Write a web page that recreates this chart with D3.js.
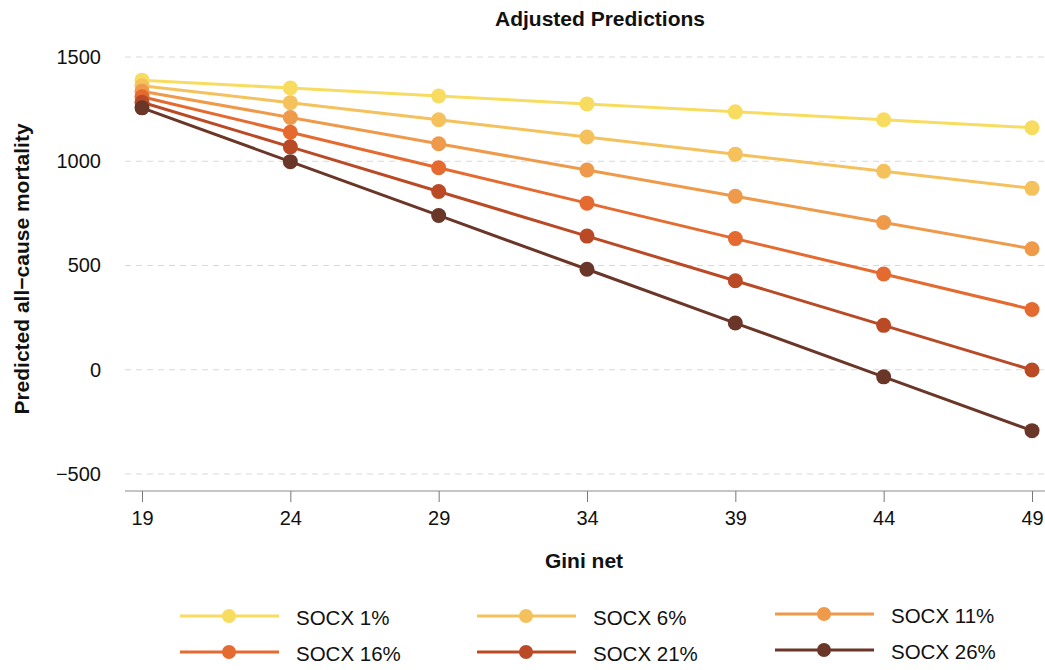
<!DOCTYPE html>
<html>
<head>
<meta charset="utf-8">
<title>Adjusted Predictions</title>
<script src="https://d3js.org/d3.v7.min.js"></script>
<style>
  body { margin: 0; background: #fff; }
  svg text { font-family: "Liberation Sans", Arial, Helvetica, sans-serif; fill: #111; }
</style>
</head>
<body>
<div id="chart"></div>
<script>
// data
const gini = [19, 24, 29, 34, 39, 44, 49];
const seriesNames = ["SOCX 1%", "SOCX 6%", "SOCX 11%", "SOCX 16%", "SOCX 21%", "SOCX 26%"];
const socx1  = [1389, 1351, 1313, 1275, 1237, 1199, 1161];
const socx6  = [1362, 1281, 1199, 1116, 1034, 952, 870];
const socx11 = [1336, 1210, 1084, 958, 832, 706, 580];
const socx16 = [1309, 1139, 969, 799, 629, 459, 289];
const socx21 = [1283, 1069, 855, 641, 427, 213, -1];
const socx26 = [1256, 998, 740, 482, 224, -34, -292];
const yTicks = [-500, 0, 500, 1000, 1500];
const colors = ["#f8dc60", "#f4c15c", "#ee9a4a", "#e56a30", "#b94a25", "#6a3628"];

const allSeries = [socx1, socx6, socx11, socx16, socx21, socx26];

const W = 1045, H = 670;
const svg = d3.select("#chart").append("svg")
  .attr("width", W).attr("height", H);

// plot area
const plotLeft = 125, plotRight = 1045, plotBottom = 491;

const x = d3.scaleLinear().domain([19, 49]).range([142, 1032]);
const y = d3.scaleLinear().domain([-500, 1500]).range([474, 57]);

// title
svg.append("text")
  .attr("x", 600).attr("y", 26)
  .attr("text-anchor", "middle")
  .style("font-size", "21px").style("font-weight", "bold")
  .text("Adjusted Predictions");

// gridlines
svg.append("g").selectAll("line")
  .data(yTicks).enter().append("line")
  .attr("x1", plotLeft).attr("x2", plotRight)
  .attr("y1", d => y(d)).attr("y2", d => y(d))
  .attr("stroke", "#d9d9d9").attr("stroke-width", 1)
  .attr("stroke-dasharray", "6,5");

// y axis labels
const yAxis = svg.append("g")
  .attr("transform", `translate(${plotLeft},0)`)
  .call(d3.axisLeft(y).tickValues(yTicks).tickSize(0).tickPadding(24)
    .tickFormat(d => d < 0 ? "\u2212" + Math.abs(d) : d));
yAxis.select(".domain").remove();
yAxis.selectAll("text").style("font-size", "20px").attr("fill", "#111");

// x axis
const xAxis = svg.append("g")
  .attr("transform", `translate(0,${plotBottom})`)
  .call(d3.axisBottom(x).tickValues(gini).tickSize(11).tickPadding(9));
xAxis.select(".domain").remove();
xAxis.append("line").attr("x1", plotLeft).attr("x2", plotRight)
  .attr("stroke", "#8a8a8a").attr("stroke-width", 1);
xAxis.selectAll(".tick line").attr("stroke", "#777");
xAxis.selectAll("text").style("font-size", "20px").attr("fill", "#111");

// axis titles
svg.append("text")
  .attr("x", 584).attr("y", 568)
  .attr("text-anchor", "middle")
  .style("font-size", "21px").style("font-weight", "bold")
  .text("Gini net");

svg.append("text")
  .attr("transform", "rotate(-90)")
  .attr("x", -269).attr("y", 29)
  .attr("text-anchor", "middle")
  .style("font-size", "21px").style("font-weight", "bold")
  .text("Predicted all\u2212cause mortality");

// lines and points
const line = d3.line().x((d, i) => x(gini[i])).y(d => y(d));

allSeries.forEach((vals, k) => {
  svg.append("path")
    .datum(vals)
    .attr("fill", "none")
    .attr("stroke", colors[k])
    .attr("stroke-width", 3)
    .attr("d", line);
});
allSeries.forEach((vals, k) => {
  svg.append("g").selectAll("circle")
    .data(vals).enter().append("circle")
    .attr("cx", (d, i) => x(gini[i]))
    .attr("cy", d => y(d))
    .attr("r", 7.5)
    .attr("fill", colors[k]);
});

// legend
const legendCols = [180, 477, 775];
const legendRows = [616, 652];
seriesNames.forEach((name, k) => {
  const lx = legendCols[k % 3];
  const ly = legendRows[Math.floor(k / 3)] - (k % 3 === 2 ? 2 : 0);
  const g = svg.append("g").attr("transform", `translate(${lx},${ly})`);
  g.append("line").attr("x1", 0).attr("x2", 99)
    .attr("stroke", colors[k]).attr("stroke-width", 3);
  g.append("circle").attr("cx", 49).attr("cy", 0)
    .attr("r", 7).attr("fill", colors[k]);
  g.append("text").attr("x", 116).attr("y", 9)
    .style("font-size", "20.5px")
    .text(name);
});
</script>
</body>
</html>
